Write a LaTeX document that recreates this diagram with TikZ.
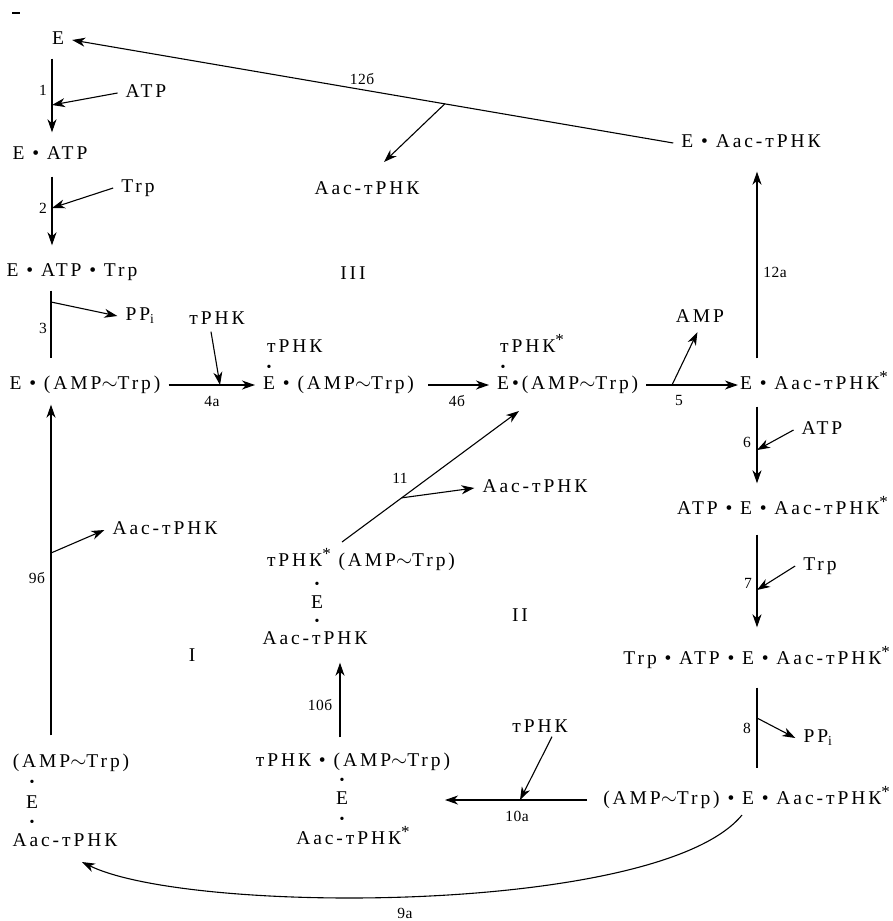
\documentclass[tikz,border=0pt]{standalone}
\usepackage{fontspec}
\setmainfont[LetterSpace=15]{Liberation Serif}
\usetikzlibrary{arrows.meta,calc}
\newcommand\mf{\fontsize{19.5}{22}\selectfont}
\newcommand\lf{\fontsize{15.5}{18}\selectfont\addfontfeature{LetterSpace=3}}
\newcommand\bdot{•}
\newcommand\tld{\(\sim\)}
\newcommand\zv{\raisebox{0.36em}{\fontsize{17}{17}\selectfont *}}
\begin{document}
\begin{tikzpicture}[x=1pt,y=-1pt,
  t/.style={inner xsep=8pt,inner ysep=0pt,text height=13pt,text depth=4pt,font=\mf},
  lab/.style={inner sep=1pt,font=\lf},
  bd/.style={inner sep=0pt,font=\fontsize{14}{14}\selectfont},
  arr/.style={-{Stealth[length=13pt,width=9pt,inset=4pt]},line width=1.1pt},
  ln/.style={line width=1.1pt}]
\useasboundingbox (0,0) rectangle (892,921);
\fill[white] (0,0) rectangle (892,921);
% left column
\node[t] (E) at (58,40) {E};
\node[t] (ATPa) at (146,93) {ATP};
\node[t] (EATP) at (50,155) {E \bdot{} ATP};
\node[t] (Trpa) at (138,188) {Trp};
\node[t] (EATPTrp) at (72,272) {E \bdot{} ATP \bdot{} Trp};
\node[t] (PPa) at (140,316) {PP\textsubscript{i}};
% middle row
\node[t] (A) at (85,385) {E \bdot{} (AMP\tld Trp)};
\node[t] (tRa) at (217,320) {тРНК};
\node[t,anchor=west] (B) at (255,385) {E \bdot{} (AMP\tld Trp)};
\node[t,anchor=west] (tRb) at (259,348) {тРНК};
\node[bd] (db) at (269,368) {\bdot};
\node[t,anchor=west] (C) at (489,385) {E\bdot(AMP\tld Trp)};
\node[t,anchor=west] (tRc) at (492,348) {тРНК\zv};
\node[bd] (dc) at (503,368) {\bdot};
\node[t,anchor=east] (D) at (896,385) {E \bdot{} Aac-тРНК\zv};
\node[t] (AMP) at (700,318) {AMP};
% top
\node[t] (TopE) at (751,143) {E \bdot{} Aac-тРНК};
\node[t] (Aac12) at (367,190) {Aac-тРНК};
% right column
\node[t] (ATP6) at (822,430) {ATP};
\node[t,anchor=east] (ATPE) at (896,510) {ATP \bdot{} E \bdot{} Aac-тРНК\zv};
\node[t] (Trp7) at (820,566) {Trp};
\node[t,anchor=east] (TrpE) at (898,660) {Trp \bdot{} ATP \bdot{} E \bdot{} Aac-тРНК\zv};
\node[t] (PP8) at (818,738) {PP\textsubscript{i}};
\node[t,anchor=east] (F) at (898,800) {(AMP\tld Trp) \bdot{} E \bdot{} Aac-тРНК\zv};
\node[t] (tR10) at (540,728) {тРНК};
% middle bottom stack
\node[t] (G1) at (353,762) {тРНК \bdot{} (AMP\tld Trp)};
\node[bd] (G2) at (342,781) {\bdot};
\node[t] (G3) at (342,800) {E};
\node[bd] (G4) at (342,820) {\bdot};
\node[t] (G5) at (353,840) {Aac-тРНК\zv};
% middle upper stack
\node[t] (H1) at (361,562) {тРНК\zv{} (AMP\tld Trp)};
\node[bd] (H2) at (317,585) {\bdot};
\node[t] (H3) at (317,604) {E};
\node[bd] (H4) at (317,622) {\bdot};
\node[t] (H5) at (315,640) {Aac-тРНК};
\node[t] (Aac11) at (535,488) {Aac-тРНК};
% left bottom stack
\node[t] (L1) at (71,763) {(AMP\tld Trp)};
\node[bd] (L2) at (32,783) {\bdot};
\node[t] (L3) at (32,804) {E};
\node[bd] (L4) at (32,823) {\bdot};
\node[t] (L5) at (65,842) {Aac-тРНК};
\node[t] (Aac9) at (165,530) {Aac-тРНК};
% roman numerals
\node[t] (r1) at (192,657) {I};
\node[t] (r2) at (520,617) {II};
\node[t] (r3) at (353,275) {III};
% step labels
\node[lab] (l1) at (43,90) {1};
\node[lab] (l2) at (43,208) {2};
\node[lab] (l3) at (43,328) {3};
\node[lab] (l4a) at (212,401) {4a};
\node[lab] (l4b) at (457,401) {4б};
\node[lab] (l5) at (679,400) {5};
\node[lab] (l6) at (747,442) {6};
\node[lab] (l7) at (748,583) {7};
\node[lab] (l8) at (747,728) {8};
\node[lab] (l9a) at (405,913) {9a};
\node[lab] (l9b) at (37,578) {9б};
\node[lab] (l10a) at (517,816) {10a};
\node[lab] (l10b) at (320,705) {10б};
\node[lab] (l11) at (400,478) {11};
\node[lab] (l12a) at (775,272) {12a};
\node[lab] (l12b) at (362,79) {12б};
% coordinates
\coordinate (b1) at (52,105);
\coordinate (b2) at (52,208);
\coordinate (b3) at (51,302);
\coordinate (b4a) at (220,385);
\coordinate (b5) at (672,385);
\coordinate (b6) at (757,450);
\coordinate (b7) at (757,590);
\coordinate (b8) at (757,718);
\coordinate (b9) at (51,553);
\coordinate (b10a) at (520,800);
\coordinate (b10b) at (340,700);
\coordinate (s11) at (342,542);
\coordinate (e11) at (519,411);
\coordinate (b11) at ($(s11)!0.337!(e11)$);
\coordinate (b12) at (757,270);
\coordinate (b12b) at ($(TopE.west)!0.38!(E.east)$);
\coordinate (e12b) at (384,162);
\coordinate (e10a) at (445,800);
\coordinate (s9a) at (742,815);
\coordinate (e9a) at (82,862);
% connectors
\draw[arr,shorten <=10pt,shorten >=14pt] (E.south -| b1) -- (EATP.north -| b1);
\draw[arr] (ATPa.west) -- (b1);
\draw[arr,shorten <=13pt,shorten >=18pt] (EATP.south -| b2) -- (EATPTrp.north -| b2);
\draw[arr] (Trpa.west) -- (b2);
\draw[ln,shorten <=10pt,shorten >=18pt] (EATPTrp.south -| b3) -- (A.north -| b3);
\draw[arr] (b3) -- (PPa.west);
\draw[arr] (A.east) -- (B.west);
\draw[arr] ([xshift=-6pt,yshift=-3pt]tRa.south) -- (b4a);
\draw[arr,shorten <=6pt] (B.east) -- (C.west);
\draw[arr,shorten >=-6pt] (C.east) -- (D.west);
\draw[arr,shorten >=6pt] (b5) -- (AMP.south);
\draw[arr,shorten <=18pt,shorten >=20pt] (D.north -| b12) -- (TopE.south -| b12);
\draw[arr] (TopE.west) -- (E.east);
\draw[arr] (b12b) -- (e12b);
\draw[arr,shorten <=13pt,shorten >=18pt] (D.south -| b6) -- (ATPE.north -| b6);
\draw[arr] (ATP6.west) -- (b6);
\draw[arr,shorten <=16pt,shorten >=24pt] (ATPE.south -| b7) -- (TrpE.north -| b7);
\draw[arr] (Trp7.west) -- (b7);
\draw[ln,shorten <=19pt,shorten >=23pt] (TrpE.south -| b8) -- (F.north -| b8);
\draw[arr] (b8) -- (PP8.west);
\draw[arr,shorten <=8pt] (F.west) -- (e10a);
\draw[arr] ([xshift=12pt]tR10.south) -- (b10a);
\draw[arr,shorten <=16pt,shorten >=14pt] (G1.north -| b10b) -- (H5.south -| b10b);
\draw[arr] (s11) -- (e11);
\draw[arr] (b11) -- (Aac11.west);
\draw[arr,shorten <=19pt,shorten >=11pt] (L1.north -| b9) -- (A.south -| b9);
\draw[arr] (b9) -- (Aac9.west);
\draw[arr] (s9a) .. controls (660,915) and (190,915) .. (e9a);
\draw[ln] (12,13) -- (20,13);
\end{tikzpicture}
\end{document}
